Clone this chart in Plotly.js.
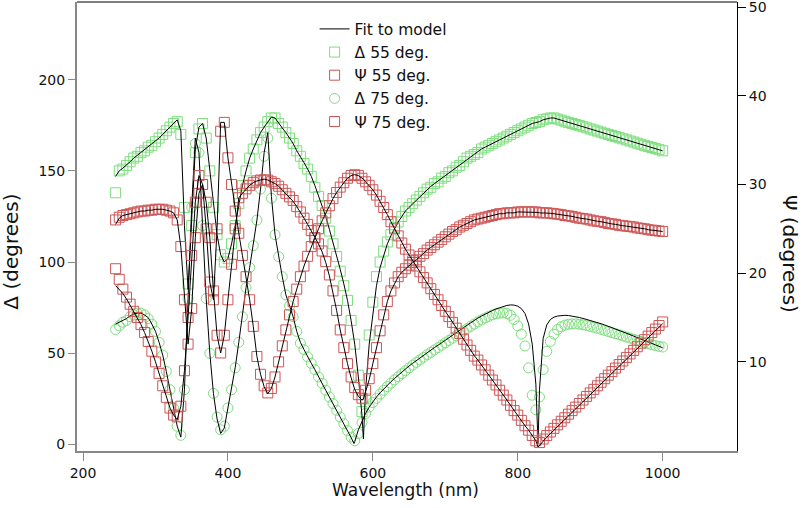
<!DOCTYPE html>
<html><head><meta charset="utf-8">
<script src="https://cdn.plot.ly/plotly-3.0.1.min.js"></script>
<style>body{margin:0;background:#fff}#chart{width:805px;height:508px}</style>
</head><body><div id="chart"></div>
<script>
// measured wavelengths (nm)
const wl = [245,250,255,260,265,270,275,280,285,290,
295,300,305,310,315,320,325,330,335,340,
345,350,355,360,365,370,375,380,385,390,
395,400,405,410,415,420,425,430,435,440,
445,450,455,460,465,470,475,480,485,490,
495,500,505,510,515,520,525,530,535,540,
545,550,555,560,565,570,575,580,585,590,
595,600,605,610,615,620,625,630,635,640,
645,650,655,660,665,670,675,680,685,690,
695,700,705,710,715,720,725,730,735,740,
745,750,755,760,765,770,775,780,785,790,
795,800,805,810,815,820,825,830,835,840,
845,850,855,860,865,870,875,880,885,890,
895,900,905,910,915,920,925,930,935,940,
945,950,955,960,965,970,975,980,985,990,
995,1000];
const delta55 = [138,150,151,153,155,157,158,160,161,163,
164,166,168,170,172,174,176,177,170,130,
88,120,160,173,176,168,150,130,115,104,
100,102,110,120,132,142,150,157,162,167,
171,174,177,179,179,176,174,171,168,165,
161,158,154,151,147,141,136,131,124,117,
110,103,95,87,79,68,55,38,18,25,
60,78,92,100,106,111,115,119,122,125,
128,130,132,134,136,138,140,141,143,144,
146,147,149,150,152,153,155,157,158,159,
160,162,163,164,165,166,167,168,169,170,
171,172,173,174,175,176,176.5,177,178,178.5,
179,179,178.4,177.8,177.2,176.6,176,175.4,174.8,174.2,
173.6,173,172.4,171.8,171.2,170.6,170,169.4,168.8,168.2,
167.6,167,166.4,165.8,165.2,164.6,164,163.4,162.8,162.2,
161.6,161];
const delta75 = [63,65,67,68,70,71,72,72,71,69,
66,62,56,49,40,30,20,10,5,30,
80,130,165,160,120,80,50,28,15,8,
10,20,30,42,56,70,86,97,109,123,
140,158,168,135,115,103,92,82,76,70,
62,55.5,52,48,44.5,41,37,33.5,29.7,26,
22.4,18.7,15,11.3,7.6,4,2,6,12,17,
20.5,23,25.3,27.6,29.7,31.7,33.6,35.4,37.1,38.8,
40.4,42,43.5,45,46.4,47.8,49.2,50.5,51.8,53.1,
54.4,55.7,57,58.3,59.6,60.9,62.2,63.5,64.8,66,
67.2,68.3,69.3,70.2,71,71.6,72,72.1,71.8,70.8,
68.5,65,60.5,54,42,27,19,26,41,51,
56.5,60.5,63,64.5,65.4,65.9,66.1,66.1,65.9,65.6,
65.2,64.7,64.2,63.7,63.1,62.5,61.9,61.3,60.7,60.1,
59.5,58.9,58.3,57.7,57.1,56.5,55.9,55.3,54.7,54.2,
53.8,53.4];
const psi55 = [26,26.3,26.5,26.6,26.7,26.8,26.9,27,27,27.1,
27.1,27.2,27.2,27.2,27.1,27,26.8,26,23,17,
12,16,24,29,30,28,24,18,13,11,
13,17,21,25,28.5,29,29.5,29.9,30.2,30.4,
30.5,30.5,30.5,30.3,30.1,29.8,29.4,29,28.6,28.2,
27.5,26.9,26.2,25.5,24.8,24,23.3,22.5,21.3,19.8,
18,15.8,13.6,11.6,9.8,8.3,7.1,6.3,5.9,6.8,
8.1,9.8,11.6,13.5,15.3,16.8,18,18.9,19.6,20.1,
20.5,20.9,21.2,21.5,21.9,22.2,22.6,22.9,23.2,23.5,
23.8,24.1,24.4,24.7,24.9,25.2,25.4,25.6,25.8,26,
26.1,26.2,26.3,26.4,26.5,26.6,26.7,26.7,26.8,26.8,
26.8,26.9,26.9,26.9,26.9,26.9,26.9,26.8,26.8,26.8,
26.75,26.7,26.65,26.6,26.5,26.45,26.4,26.3,26.2,26.15,
26.1,26,25.9,25.85,25.8,25.7,25.6,25.55,25.5,25.4,
25.35,25.3,25.25,25.2,25.1,25.05,25,24.9,24.85,24.8,
24.75,24.7];
const psi75 = [20.5,19.3,18.2,17.3,16.5,15.7,15,14.2,13.3,12.3,
11.2,10,8.7,7.3,6,4.8,4,3.8,5,9,
15,22,28,31,30,25,19,17,25,36,
37,33,30,27,24.5,22,19.6,17,14,10.6,
8.6,7.3,6.5,7,8.3,10,11.8,13.6,15.3,16.8,
18.2,19.6,20.8,21.9,23,24,25,25.9,26.8,27.6,
28.4,29.1,29.7,30.2,30.7,31,31.1,31,30.7,30.3,
29.9,29.4,28.8,28.1,27.4,26.6,25.8,25,24.2,23.4,
22.7,22.05,21.4,20.8,20.15,19.5,18.9,18.25,17.6,17,
16.35,15.7,15.1,14.45,13.8,13.2,12.55,11.9,11.3,10.65,
10.2,9.65,9.1,8.5,7.95,7.4,6.8,6.25,5.7,5.1,
4.5,4,3.4,2.8,2.3,1.7,1.1,0.9,1.3,1.7,
2.1,2.5,2.9,3.3,3.7,4.1,4.5,4.9,5.3,5.7,
6.1,6.5,6.9,7.3,7.7,8.1,8.5,8.9,9.3,9.7,
10.1,10.5,10.9,11.3,11.7,12.1,12.5,12.9,13.3,13.7,
14.1,14.5];

// model fit curves (own wavelength grid)
const fitWl = [245,250,255,260,265,270,275,280,285,290,
295,300,305,310,315,320,325,330,335,340,
345,350,355,360,365,370,375,380,385,390,
395,400,405,410,415,420,425,430,435,440,
445,450,455,460,465,470,475,480,485,490,
495,500,505,510,515,520,525,530,535,540,
545,550,555,560,565,570,574,575,580,585,
587,590,595,600,605,610,615,620,625,630,
635,640,645,650,655,660,665,670,675,680,
685,690,695,700,705,710,715,720,725,730,
735,740,745,750,755,760,765,770,775,780,
785,790,795,800,805,810,815,820,825,828,
830,835,840,845,850,855,860,865,870,875,
880,885,890,895,900,905,910,915,920,925,
930,935,940,945,950,955,960,965,970,975,
980,985,990,995,1000];
const fitDelta55 = [147,150,151.5,153,155,157,158.5,160,161.5,163,
164.5,166,168,170,172,174,176,178,172,120,
85,125,162,174,176,168,150,130,115,104,
100,102,110,120,132,142,150,157,162,167,
171,174,177,179.5,179,176,173.5,171,168,165,
161,158,154.5,151,147,142,136.5,131,125,118,
111,104,96,88,79,68,58,55,37,16,
3,30,55,72,87,97,104,110,114.5,118.5,
122,125,128,130,132,134,136,138,140,141.5,
143,144.5,146,147.5,149,150.5,152,153.5,155,156.5,
158,159.5,161,162,163,164,165,166,167,168,
169,170,171,172,173,174,175,176,176.5,176.8,
177,178,178.5,179,179,178.4,177.8,177.2,176.6,176,
175.4,174.8,174.2,173.6,173,172.4,171.8,171.2,170.6,170,
169.4,168.8,168.2,167.6,167,166.4,165.8,165.2,164.6,164,
163.4,162.8,162.2,161.6,161];
const fitDelta75 = [66,67,68,69,70.5,71.5,72,72,71,69.5,
66,62,56,49,40,30,20,10,4,30,
80,130,168,160,120,80,50,28,14,6,
9,20,30,42,56,70,86,97,109,123,
140,160,171,136,115,103,92,82,76,70,
62,56,52,48,44.5,41,37,33.5,29.7,26,
22.4,18.7,15,11.3,7.6,3.8,0.5,1.5,8,13,
14.5,17,20.5,23.5,26,28.3,30.5,32.5,34.4,36.2,
38,39.7,41.3,43,44.5,46,47.5,49,50.4,51.8,
53.1,54.4,55.7,57,58.4,59.8,61.2,62.6,64,65.4,
66.8,68.1,69.3,70.4,71.5,72.5,73.4,74.3,75,75.7,
76.2,76.5,76.4,75.8,74.5,71.8,66,55,33,0.5,
30,58,65.5,68.5,69.8,70.4,70.7,70.8,70.7,70.4,
70,69.6,69.1,68.6,68,67.4,66.8,66.2,65.5,64.8,
64.1,63.4,62.6,61.8,61,60.2,59.4,58.6,57.8,57,
56.2,55.4,54.6,53.8,53];
const fitPsi55 = [25.5,26.2,26.5,26.6,26.7,26.8,26.9,27,27,27.1,
27.1,27.2,27.2,27.2,27.1,27,26.8,26,23,17,
12,16,24,29,30,28,24,18,13,11,
13,17,21,25,28.5,29,29.5,29.9,30.2,30.4,
30.5,30.6,30.5,30.3,30.1,29.8,29.4,29,28.6,28.1,
27.5,26.9,26.2,25.5,24.8,24,23.3,22.4,21.2,19.7,
17.9,15.8,13.6,11.6,9.8,8.2,7.1,6.9,6.1,5.7,
5.8,6.6,8,9.8,11.6,13.5,15.3,16.8,18,18.9,
19.6,20.1,20.5,20.9,21.2,21.5,21.9,22.2,22.6,22.9,
23.2,23.5,23.8,24.1,24.4,24.7,24.9,25.2,25.4,25.6,
25.8,26,26.1,26.2,26.3,26.4,26.5,26.6,26.7,26.7,
26.8,26.8,26.8,26.9,26.9,26.9,26.9,26.9,26.9,26.85,
26.8,26.8,26.8,26.75,26.7,26.65,26.6,26.5,26.45,26.4,
26.3,26.2,26.15,26.1,26,25.9,25.85,25.8,25.7,25.6,
25.55,25.5,25.4,25.35,25.3,25.25,25.2,25.1,25.05,25,
24.9,24.85,24.8,24.75,24.7];
const fitPsi75 = [18.6,18.2,17.7,17.1,16.4,15.7,15,14.2,13.3,12.3,
11.2,10,8.7,7.3,6,4.8,4,3.5,5,9,
15,22,28,31,30,25,19,17,25,37,
37,33,30,27,24.5,22,19.6,17,14,10.6,
8.6,7.2,6.4,7,8.3,10,11.8,13.6,15.3,16.8,
18.2,19.6,20.8,21.9,23,24,25,25.9,26.8,27.6,
28.4,29.1,29.7,30.2,30.7,31,31.1,31.1,31,30.7,
30.6,30.3,29.9,29.4,28.8,28.1,27.4,26.6,25.8,25,
24.2,23.4,22.7,22.05,21.4,20.8,20.15,19.5,18.9,18.25,
17.6,17,16.35,15.7,15.1,14.45,13.8,13.2,12.55,11.9,
11.3,10.7,10.2,9.65,9.1,8.5,7.95,7.4,6.8,6.25,
5.7,5.1,4.5,4,3.4,2.8,2.3,1.7,1.1,0.4,
0.6,1.1,1.5,1.9,2.3,2.7,3.1,3.5,3.9,4.3,
4.7,5.1,5.5,5.9,6.3,6.7,7.1,7.5,7.9,8.3,
8.7,9.1,9.5,9.9,10.3,10.7,11.1,11.5,11.9,12.3,
12.7,13.1,13.5,13.9,14.3];

const green = 'rgb(125,222,125)';
const red = 'rgb(205,85,85)';
const FONT = 'DejaVu Sans, Liberation Sans, sans-serif';

function fitTrace(y, axis, show) {
  return {x: fitWl, y: y, yaxis: axis, mode: 'lines', name: 'Fit to model',
    line: {color: '#000', width: 1}, showlegend: show, legendrank: 1, hoverinfo: 'skip'};
}
function dataTrace(y, axis, name, symbol, color, rank) {
  return {x: wl, y: y, yaxis: axis, mode: 'markers', name: name, legendrank: rank,
    marker: {symbol: symbol, size: 10, color: color, line: {color: color, width: 1}}};
}

const traces = [
  dataTrace(delta55, 'y', '\u0394 55 deg.', 'square-open', green, 2),
  dataTrace(delta75, 'y', '\u0394 75 deg.', 'circle-open', green, 4),
  fitTrace(fitDelta55, 'y', true),
  fitTrace(fitDelta75, 'y', false),
  dataTrace(psi55, 'y2', '\u03A8 55 deg.', 'square-open', red, 3),
  dataTrace(psi75, 'y2', '\u03A8 75 deg.', 'square-open', red, 5),
  fitTrace(fitPsi55, 'y2', false),
  fitTrace(fitPsi75, 'y2', false)
];

const tickFont = {family: FONT, size: 14, color: '#111'};
const layout = {
  width: 805, height: 508,
  margin: {l: 77, r: 68, t: 2, b: 57},
  paper_bgcolor: '#fff', plot_bgcolor: '#fff',
  font: {family: FONT, size: 14, color: '#111'},
  showlegend: true,
  legend: {x: 0.36, y: 0.977, xanchor: 'left', yanchor: 'top', bgcolor: 'rgba(0,0,0,0)',
           font: {family: FONT, size: 15.5, color: '#111'}, traceorder: 'normal'},
  xaxis: {range: [191.7, 1102.6], tickvals: [200,400,600,800,1000], ticks: 'outside', ticklen: 8,
          tickcolor: '#888', tickwidth: 1, showline: true, linecolor: '#888', linewidth: 2,
          showgrid: false, zeroline: false, tickfont: tickFont},
  yaxis: {range: [-3.6, 242.6], tickvals: [0,50,100,150,200], ticks: 'outside', ticklen: 7,
          tickcolor: '#888', tickwidth: 1, showline: true, linecolor: '#888', linewidth: 2,
          showgrid: false, zeroline: false, tickfont: tickFont},
  yaxis2: {overlaying: 'y', side: 'right', range: [-0.05, 50.57], tickvals: [10,20,30,40,50],
           ticks: 'outside', ticklen: 8, tickcolor: '#000', tickwidth: 1, showline: true,
           linecolor: '#000', linewidth: 1, showgrid: false, zeroline: false,
           ticklabeloverflow: 'allow', tickfont: tickFont},
  shapes: [{type: 'line', xref: 'paper', yref: 'paper', x0: 0, x1: 1, y0: 1, y1: 1,
            line: {color: '#000', width: 1}}],
  annotations: [
    {text: 'Wavelength (nm)', xref: 'paper', yref: 'paper', x: 0.497, y: -0.087,
     xanchor: 'center', yanchor: 'middle', showarrow: false, font: {family: FONT, size: 17, color: '#111'}},
    {text: '\u0394 (degrees)', xref: 'paper', yref: 'paper', x: -0.1, y: 0.444, textangle: -90,
     xanchor: 'center', yanchor: 'middle', showarrow: false, font: {family: FONT, size: 20, color: '#111'}},
    {text: '\u03A8 (degrees)', xref: 'paper', yref: 'paper', x: 1.08, y: 0.44, textangle: 90,
     xanchor: 'center', yanchor: 'middle', showarrow: false, font: {family: FONT, size: 20, color: '#111'}}
  ]
};

Plotly.newPlot('chart', traces, layout, {displayModeBar: false, staticPlot: true});
</script></body></html>
